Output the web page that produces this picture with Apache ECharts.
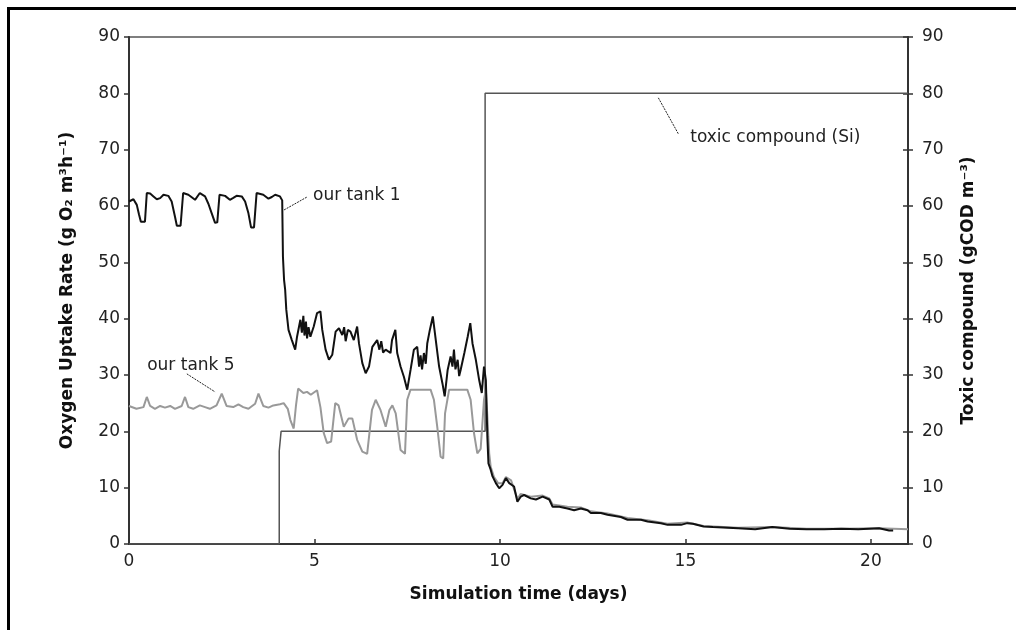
<!DOCTYPE html>
<html>
<head>
<meta charset="utf-8">
<script src="https://cdn.jsdelivr.net/npm/echarts@6/dist/echarts.min.js"></script>
<style>
html,body{margin:0;padding:0;background:#fff;}
#c{width:1016px;height:630px;}
</style>
</head>
<body>
<div id="c"></div>
<script>
// ---- data (time in days, value) ----
const xTicks = [0, 5, 10, 15, 20];
const yTicks = [0, 10, 20, 30, 40, 50, 60, 70, 80, 90];

const tank1 = [[0,60.8],[0.12,61.2],[0.21,60.2],[0.27,58.5],[0.32,57.2],[0.43,57.2],[0.48,62.3],[0.57,62.2],[0.66,61.7],[0.75,61.2],[0.84,61.4],[0.93,62.0],[1.06,61.8],[1.15,60.8],[1.24,58.1],[1.29,56.5],[1.39,56.5],[1.46,62.3],[1.60,62.0],[1.70,61.5],[1.78,61.1],[1.91,62.3],[2.05,61.7],[2.14,60.4],[2.23,58.7],[2.32,57.0],[2.38,57.1],[2.44,62.0],[2.59,61.8],[2.72,61.1],[2.80,61.4],[2.90,61.8],[3.04,61.7],[3.13,60.8],[3.22,58.7],[3.29,56.2],[3.37,56.2],[3.44,62.3],[3.62,62.0],[3.76,61.3],[3.85,61.6],[3.94,62.0],[4.07,61.7],[4.13,61.0],[4.15,51.0],[4.18,46.9],[4.21,45.1],[4.24,41.6],[4.30,38.0],[4.39,36.2],[4.48,34.5],[4.53,36.8],[4.62,39.8],[4.66,37.5],[4.70,40.5],[4.73,37.0],[4.77,39.5],[4.80,36.5],[4.84,38.5],[4.89,36.8],[4.98,38.6],[5.07,41.0],[5.16,41.3],[5.21,38.0],[5.30,34.5],[5.39,32.7],[5.48,33.6],[5.57,37.7],[5.66,38.3],[5.75,37.1],[5.80,38.5],[5.84,36.0],[5.90,38.0],[5.97,37.7],[6.06,36.2],[6.15,38.6],[6.20,35.6],[6.29,32.1],[6.38,30.3],[6.47,31.5],[6.56,35.0],[6.69,36.2],[6.75,34.5],[6.80,36.0],[6.85,34.0],[6.92,34.5],[7.05,33.9],[7.09,36.2],[7.18,38.0],[7.23,33.9],[7.32,31.5],[7.41,29.7],[7.50,27.4],[7.59,30.9],[7.68,34.5],[7.77,35.0],[7.82,31.5],[7.86,33.5],[7.90,31.0],[7.95,33.9],[8.00,32.0],[8.04,35.6],[8.11,38.0],[8.19,40.4],[8.27,36.2],[8.36,31.5],[8.45,28.5],[8.51,26.2],[8.59,30.9],[8.67,33.3],[8.72,31.5],[8.76,34.5],[8.80,31.0],[8.86,32.7],[8.90,29.8],[8.94,30.9],[9.04,33.9],[9.13,36.8],[9.20,39.2],[9.26,35.6],[9.35,32.7],[9.44,29.1],[9.51,26.8],[9.57,31.5],[9.62,29.1],[9.66,19.1],[9.69,14.3],[9.75,13.2],[9.80,12.0],[9.89,10.8],[9.98,9.9],[10.07,10.5],[10.16,11.7],[10.25,10.8],[10.38,10.2],[10.47,7.5],[10.56,8.4],[10.65,8.7],[10.83,8.1],[10.97,7.9],[11.15,8.4],[11.33,7.9],[11.42,6.6],[11.60,6.6],[11.82,6.3],[12.0,6.0],[12.18,6.3],[12.36,6.0],[12.45,5.5],[12.72,5.5],[12.9,5.2],[13.26,4.8],[13.44,4.3],[13.8,4.3],[13.98,4.0],[14.34,3.7],[14.52,3.4],[14.88,3.4],[15.05,3.7],[15.2,3.6],[15.49,3.1],[15.74,3.0],[16.42,2.8],[16.88,2.6],[17.34,3.0],[17.81,2.7],[18.27,2.6],[18.74,2.6],[19.2,2.7],[19.66,2.6],[20.22,2.8],[20.49,2.4],[20.6,2.4]];

const tank5 = [[0,24.5],[0.2,24.0],[0.39,24.3],[0.48,26.1],[0.57,24.5],[0.70,24.0],[0.84,24.5],[0.97,24.2],[1.11,24.5],[1.24,24.0],[1.42,24.5],[1.51,26.1],[1.60,24.3],[1.73,24.0],[1.91,24.6],[2.05,24.3],[2.18,24.0],[2.36,24.6],[2.50,26.7],[2.63,24.5],[2.81,24.3],[2.95,24.8],[3.08,24.3],[3.22,24.0],[3.40,24.9],[3.49,26.7],[3.62,24.5],[3.76,24.2],[3.89,24.6],[4.07,24.8],[4.17,25.0],[4.28,24.0],[4.35,22.0],[4.44,20.5],[4.50,24.5],[4.56,27.6],[4.70,26.8],[4.80,27.0],[4.90,26.5],[5.07,27.3],[5.16,24.3],[5.25,19.7],[5.34,17.9],[5.45,18.2],[5.56,25.0],[5.65,24.6],[5.79,20.8],[5.92,22.3],[6.02,22.3],[6.15,18.5],[6.29,16.4],[6.42,16.0],[6.55,23.8],[6.65,25.6],[6.78,23.8],[6.92,20.8],[7.02,23.8],[7.10,24.6],[7.19,23.2],[7.32,16.7],[7.44,16.0],[7.50,25.6],[7.59,27.4],[8.13,27.4],[8.22,25.6],[8.31,20.8],[8.40,15.5],[8.47,15.2],[8.52,23.2],[8.63,27.4],[9.12,27.4],[9.21,25.6],[9.30,19.7],[9.39,16.1],[9.48,16.9],[9.57,25.6],[9.62,27.4],[9.66,22.7],[9.71,16.1],[9.75,13.7],[9.84,11.9],[9.95,10.8],[10.07,10.8],[10.16,11.9],[10.3,11.3],[10.47,8.0],[10.56,8.9],[10.83,8.4],[11.15,8.6],[11.33,8.1],[11.42,7.0],[11.82,6.6],[12.18,6.5],[12.45,5.8],[12.9,5.4],[13.44,4.6],[13.98,4.2],[14.52,3.6],[15.05,3.8],[15.49,3.2],[16.42,2.9],[17.34,3.0],[18.27,2.7],[19.2,2.7],[20.22,2.8],[21,2.6]];

const toxic = [[0,0],[4.05,0],[4.05,16.5],[4.1,16.5],[4.1,20],[9.6,20],[9.6,80],[21,80]];

// annotations: [label, textPos, leaderStart, leaderEnd, yAxisIndex]
const annLabels = ['our tank 1', 'our tank 5', 'toxic compound (Si)'];
const annText = [[4.96, 61.8], [0.49, 31.6], [15.13, 72.2]];
const annFrom = [[4.18, 59.3], [1.56, 30.2], [14.27, 79.2]];
const annTo = [[4.80, 61.6], [2.32, 27.0], [14.81, 72.8]];
const annAxis = [0, 0, 1];

const FONT = 'DejaVu Sans';
const chart = echarts.init(document.getElementById('c'));

const axisLabel = { fontFamily: FONT, fontSize: 17, color: '#222' };
const nameStyle = { fontFamily: FONT, fontSize: 17, fontWeight: 'bold', color: '#111' };

chart.setOption({
  backgroundColor: '#fff',
  animation: false,
  grid: { left: 129, right: 108, top: 37, bottom: 86, show: true, borderColor: '#555', borderWidth: 1.5, outerBoundsMode: 'none' },
  xAxis: {
    type: 'value', min: 0, max: 21, interval: 5,
    name: 'Simulation time (days)', nameLocation: 'middle', nameGap: 42, nameTextStyle: nameStyle,
    axisLine: { show: true, lineStyle: { color: '#333', width: 2 } },
    axisTick: { show: true, inside: true, length: 5, lineStyle: { color: '#333', width: 1.5 } },
    axisLabel: Object.assign({ margin: 9, showMaxLabel: false }, axisLabel),
    splitLine: { show: false }
  },
  yAxis: [
    {
      type: 'value', min: 0, max: 90, interval: 10, position: 'left',
      name: 'Oxygen Uptake Rate (g O₂ m³h⁻¹)', nameLocation: 'middle', nameGap: 53, nameRotate: 90, nameTextStyle: nameStyle,
      axisLine: { show: true, lineStyle: { color: '#333', width: 2 } },
      axisTick: { show: true, inside: false, length: 5, lineStyle: { color: '#333', width: 1.5 } },
      axisLabel: Object.assign({ margin: 9 }, axisLabel),
      splitLine: { show: false }
    },
    {
      type: 'value', min: 0, max: 90, interval: 10, position: 'right',
      name: 'Toxic compound (gCOD m⁻³)', nameLocation: 'middle', nameGap: 52, nameRotate: 90, nameTextStyle: nameStyle,
      axisLine: { show: true, lineStyle: { color: '#333', width: 2 } },
      axisTick: { show: true, inside: false, length: 5, lineStyle: { color: '#333', width: 1.5 } },
      axisLabel: Object.assign({ margin: 14 }, axisLabel),
      splitLine: { show: false }
    },
    {
      type: 'value', min: 0, max: 90, interval: 10, position: 'right',
      axisLine: { show: false },
      axisTick: { show: true, inside: true, length: 5, lineStyle: { color: '#333', width: 1.5 } },
      axisLabel: { show: false },
      splitLine: { show: false }
    }
  ],
  series: [
    { name: 'toxic compound (Si)', type: 'line', yAxisIndex: 1, data: toxic, symbol: 'none', z: 1,
      lineStyle: { color: '#555', width: 1.5 } },
    { name: 'our tank 5', type: 'line', yAxisIndex: 0, data: tank5, symbol: 'none', z: 2,
      lineStyle: { color: '#999', width: 2 } },
    { name: 'our tank 1', type: 'line', yAxisIndex: 0, data: tank1, symbol: 'none', z: 3,
      lineStyle: { color: '#111', width: 2 } }
  ]
});

function px(pt, yi) { return chart.convertToPixel({ xAxisIndex: 0, yAxisIndex: yi }, pt); }

const graphics = [
  // outer frame of the figure
  { type: 'polyline', shape: { points: [[8.5, 640], [8.5, 8.5], [1030, 8.5]] }, style: { stroke: '#000', lineWidth: 3, fill: null }, silent: true }
];
annLabels.forEach((lab, i) => {
  const p = px(annText[i], annAxis[i]);
  const a = px(annFrom[i], annAxis[i]);
  const b = px(annTo[i], annAxis[i]);
  graphics.push({ type: 'line', shape: { x1: a[0], y1: a[1], x2: b[0], y2: b[1] }, style: { stroke: '#222', lineWidth: 1, lineDash: [2, 1] }, silent: true, z: 10 });
  graphics.push({ type: 'text', x: p[0], y: p[1], style: { text: lab, fontFamily: FONT, fontSize: 17, fill: '#222', align: 'left', verticalAlign: 'middle' }, silent: true, z: 10 });
});
chart.setOption({ graphic: graphics });
</script>
</body>
</html>
